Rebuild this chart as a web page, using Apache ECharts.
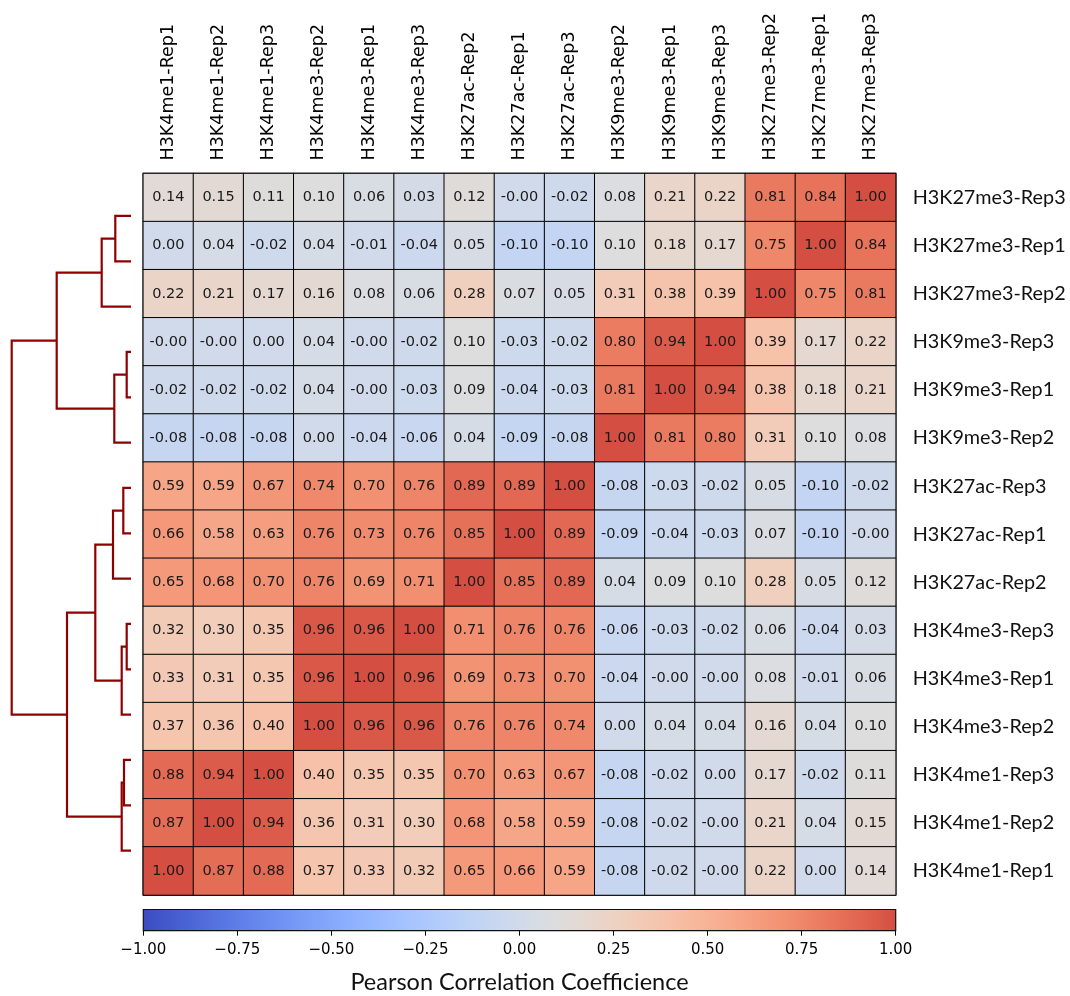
<!DOCTYPE html>
<html>
<head>
<meta charset="utf-8">
<script src="https://cdn.jsdelivr.net/npm/echarts@6/dist/echarts.min.js"></script>
<style>
html, body { margin: 0; padding: 0; background: #fff; }
#corr-map { width: 1070px; height: 996px; }
</style>
</head>
<body>
<div id="corr-map"></div>
<script>
var chart = echarts.init(document.getElementById("corr-map"));

const colLabels = [
  "H3K4me1-Rep1", "H3K4me1-Rep2", "H3K4me1-Rep3",
  "H3K4me3-Rep2", "H3K4me3-Rep1", "H3K4me3-Rep3",
  "H3K27ac-Rep2", "H3K27ac-Rep1", "H3K27ac-Rep3",
  "H3K9me3-Rep2", "H3K9me3-Rep1", "H3K9me3-Rep3",
  "H3K27me3-Rep2", "H3K27me3-Rep1", "H3K27me3-Rep3",
];
const rowLabels = [
  "H3K27me3-Rep3", "H3K27me3-Rep1", "H3K27me3-Rep2",
  "H3K9me3-Rep3", "H3K9me3-Rep1", "H3K9me3-Rep2",
  "H3K27ac-Rep3", "H3K27ac-Rep1", "H3K27ac-Rep2",
  "H3K4me3-Rep3", "H3K4me3-Rep1", "H3K4me3-Rep2",
  "H3K4me1-Rep3", "H3K4me1-Rep2", "H3K4me1-Rep1",
];

// one array per row (top to bottom), values in column order
// (-0.004 = cells printed as "-0.00")
const k27me3Rep3 = [0.14, 0.15, 0.11, 0.10, 0.06, 0.03, 0.12, -0.004, -0.02, 0.08, 0.21, 0.22, 0.81, 0.84, 1.00];
const k27me3Rep1 = [0.00, 0.04, -0.02, 0.04, -0.01, -0.04, 0.05, -0.10, -0.10, 0.10, 0.18, 0.17, 0.75, 1.00, 0.84];
const k27me3Rep2 = [0.22, 0.21, 0.17, 0.16, 0.08, 0.06, 0.28, 0.07, 0.05, 0.31, 0.38, 0.39, 1.00, 0.75, 0.81];
const k9me3Rep3 = [-0.004, -0.004, 0.00, 0.04, -0.004, -0.02, 0.10, -0.03, -0.02, 0.80, 0.94, 1.00, 0.39, 0.17, 0.22];
const k9me3Rep1 = [-0.02, -0.02, -0.02, 0.04, -0.004, -0.03, 0.09, -0.04, -0.03, 0.81, 1.00, 0.94, 0.38, 0.18, 0.21];
const k9me3Rep2 = [-0.08, -0.08, -0.08, 0.00, -0.04, -0.06, 0.04, -0.09, -0.08, 1.00, 0.81, 0.80, 0.31, 0.10, 0.08];
const k27acRep3 = [0.59, 0.59, 0.67, 0.74, 0.70, 0.76, 0.89, 0.89, 1.00, -0.08, -0.03, -0.02, 0.05, -0.10, -0.02];
const k27acRep1 = [0.66, 0.58, 0.63, 0.76, 0.73, 0.76, 0.85, 1.00, 0.89, -0.09, -0.04, -0.03, 0.07, -0.10, -0.004];
const k27acRep2 = [0.65, 0.68, 0.70, 0.76, 0.69, 0.71, 1.00, 0.85, 0.89, 0.04, 0.09, 0.10, 0.28, 0.05, 0.12];
const k4me3Rep3 = [0.32, 0.30, 0.35, 0.96, 0.96, 1.00, 0.71, 0.76, 0.76, -0.06, -0.03, -0.02, 0.06, -0.04, 0.03];
const k4me3Rep1 = [0.33, 0.31, 0.35, 0.96, 1.00, 0.96, 0.69, 0.73, 0.70, -0.04, -0.004, -0.004, 0.08, -0.01, 0.06];
const k4me3Rep2 = [0.37, 0.36, 0.40, 1.00, 0.96, 0.96, 0.76, 0.76, 0.74, 0.00, 0.04, 0.04, 0.16, 0.04, 0.10];
const k4me1Rep3 = [0.88, 0.94, 1.00, 0.40, 0.35, 0.35, 0.70, 0.63, 0.67, -0.08, -0.02, 0.00, 0.17, -0.02, 0.11];
const k4me1Rep2 = [0.87, 1.00, 0.94, 0.36, 0.31, 0.30, 0.68, 0.58, 0.59, -0.08, -0.02, -0.004, 0.21, 0.04, 0.15];
const k4me1Rep1 = [1.00, 0.87, 0.88, 0.37, 0.33, 0.32, 0.65, 0.66, 0.59, -0.08, -0.02, -0.004, 0.22, 0.00, 0.14];

const cbTicks = [-1, -0.75, -0.5, -0.25, 0, 0.25, 0.5, 0.75, 1];

// row dendrogram: [nodeA, nodeB, height]; leaves 0..14 = rows top to bottom, merges numbered from 15
const linkage = [
  [3, 4, 0.043], [9, 10, 0.043], [12, 13, 0.07], [6, 7, 0.077],
  [16, 11, 0.093], [17, 14, 0.093], [0, 1, 0.157], [15, 5, 0.167],
  [18, 8, 0.18], [21, 2, 0.293], [23, 19, 0.357], [25, 20, 0.64],
  [24, 22, 0.743], [27, 26, 1.193],
];

const rows = [
  k27me3Rep3, k27me3Rep1, k27me3Rep2, k9me3Rep3, k9me3Rep1, k9me3Rep2,
  k27acRep3, k27acRep1, k27acRep2, k4me3Rep3, k4me3Rep1, k4me3Rep2,
  k4me1Rep3, k4me1Rep2, k4me1Rep1,
];
const cells = [];
rows.forEach((row, i) => row.forEach((v, j) => cells.push([j, i, v])));

// dendrogram U-shapes
const nodeY = [], nodeH = [];
rowLabels.forEach((_, i) => { nodeY.push(5 + 10 * i); nodeH.push(0); });
const links = linkage.map(([a, b, h]) => {
  nodeY.push((nodeY[a] + nodeY[b]) / 2);
  nodeH.push(h);
  return { coords: [[nodeH[a], nodeY[a]], [h, nodeY[a]], [h, nodeY[b]], [nodeH[b], nodeY[b]]] };
});

// coolwarm (Moreland) stops, the plot uses it over vmin=-1 .. vmax=1.2
const coolwarm = [
  [59,76,192],[68,90,204],[77,104,215],[87,117,225],[98,130,234],[108,142,241],
  [119,154,247],[130,165,251],[141,176,254],[152,185,255],[163,194,255],[174,201,253],
  [184,208,249],[194,213,244],[204,217,238],[213,219,230],[221,221,221],[229,216,209],
  [236,211,197],[241,204,185],[245,196,173],[247,187,160],[247,177,148],[247,166,135],
  [244,154,123],[241,141,111],[236,127,99],[229,112,88],[222,96,77],[213,80,66],
  [203,62,56],[192,40,47],[180,4,38],
];
function cw(p) {
  const x = p * 32, i = Math.min(31, Math.floor(x)), t = x - i;
  const c = coolwarm[i].map((v, k) => Math.round(v + (coolwarm[i + 1][k] - v) * t));
  return "rgb(" + c.join(",") + ")";
}
const cmapColors = [];
for (let k = 0; k <= 40; k++) cmapColors.push(cw((k / 20) / 2.2));

const minus = (v) => (v < 0 ? "\u2212" : "") + Math.abs(v).toFixed(2);

var option = {
  animation: false,
  backgroundColor: "#fff",
  grid: [
    { left: 143.3, top: 173.5, width: 752.4, height: 721.5, show: true, borderColor: "#000", borderWidth: 1.5, outerBoundsMode: "none" },
    { left: 6, top: 193.3, width: 125, height: 680, outerBoundsMode: "none" },
    { left: 143.3, top: 909.5, width: 752.4, height: 21.2, outerBoundsMode: "none" },
  ],
  xAxis: [
    {
      gridIndex: 0, type: "category", data: colLabels, position: "top",
      axisLine: { show: false }, axisTick: { show: false },
      axisLabel: { rotate: -90, margin: 13, fontSize: 17.5, color: "#000", fontFamily: "DejaVu Sans", interval: 0 },
    },
    { gridIndex: 1, type: "value", min: 0, max: 1.25, inverse: true, show: false },
    {
      gridIndex: 2, type: "value", min: -1, max: 1, interval: 0.25,
      splitLine: { show: false }, axisLine: { show: false },
      axisTick: { show: true, length: 5, lineStyle: { color: "#000", width: 1 } },
      axisLabel: { formatter: minus, fontSize: 15, color: "#000", fontFamily: "DejaVu Sans", margin: 12 },
      name: "Pearson Correlation Coefficience", nameLocation: "middle", nameGap: 40,
      nameTextStyle: { fontSize: 23.5, color: "#111", fontFamily: "Lato" },
    },
  ],
  yAxis: [
    {
      gridIndex: 0, type: "category", data: rowLabels, inverse: true, position: "right",
      axisLine: { show: false }, axisTick: { show: false },
      axisLabel: { margin: 17, fontSize: 19.8, color: "#111", fontFamily: "Lato", interval: 0 },
    },
    { gridIndex: 1, type: "value", min: 0, max: 150, inverse: true, show: false },
    { gridIndex: 2, type: "value", min: 0, max: 1, show: false },
  ],
  visualMap: {
    type: "continuous", show: false, min: -1, max: 1, dimension: 2, seriesIndex: 0,
    inRange: { color: cmapColors },
  },
  series: [
    {
      type: "heatmap", xAxisIndex: 0, yAxisIndex: 0, data: cells,
      itemStyle: { borderColor: "#000", borderWidth: 1 },
      label: {
        show: true, formatter: (p) => p.value[2].toFixed(2),
        fontSize: 14.5, color: "#1a1a1a", fontFamily: "DejaVu Sans",
      },
      emphasis: { disabled: true },
    },
    {
      type: "lines", coordinateSystem: "cartesian2d", xAxisIndex: 1, yAxisIndex: 1,
      polyline: true, silent: true, data: links,
      lineStyle: { color: "#900000", width: 2.2, opacity: 1 },
    },
    {
      type: "custom", xAxisIndex: 2, yAxisIndex: 2, silent: true,
      data: [[cbTicks[0], cbTicks[cbTicks.length - 1]]],
      renderItem: (params, api) => {
        const p0 = api.coord([api.value(0), 1]);
        const p1 = api.coord([api.value(1), 0]);
        return {
          type: "rect",
          shape: { x: p0[0], y: p0[1], width: p1[0] - p0[0], height: p1[1] - p0[1] },
          style: {
            fill: new echarts.graphic.LinearGradient(0, 0, 1, 0,
              cmapColors.map((c, k) => ({ offset: k / (cmapColors.length - 1), color: c }))),
            stroke: "#111", lineWidth: 1.2,
          },
        };
      },
    },
  ],
};

chart.setOption(option);
</script>
</body>
</html>
